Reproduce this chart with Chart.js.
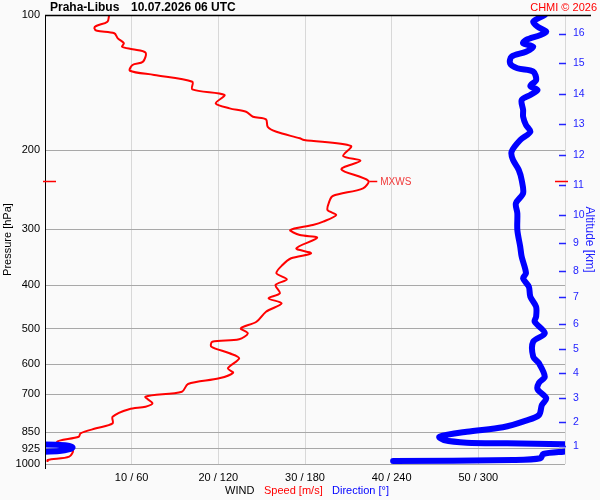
<!DOCTYPE html>
<html>
<head>
<meta charset="utf-8">
<title>Praha-Libus wind profile</title>
<script src="https://cdn.jsdelivr.net/npm/chart.js@4.4.1/dist/chart.umd.min.js"></script>
<style>
  html, body { margin: 0; padding: 0; background: #fafafa; }
  canvas { display: block; }
</style>
</head>
<body>
<canvas id="windChart" width="600" height="500"></canvas>
<script>
// station / time
const stationName = "Praha-Libus";
const soundingTime = "10.07.2026 06 UTC";

// axis ticks
const pressureTicks = [100, 200, 300, 400, 500, 600, 700, 850, 925, 1000];
const windTickLabels = ["", "10 / 60", "20 / 120", "30 / 180", "40 / 240", "50 / 300", ""];
const altLabels = ["1", "2", "3", "4", "5", "6", "7", "8", "9", "10", "11", "12", "13", "14", "15", "16"];
const altPressures = [910, 805, 712, 628, 554, 487, 424, 371, 322, 278.5, 239, 205, 175, 150, 128, 110];

// wind speed [m/s] vs pressure [hPa]
const speedPressure = [100, 103.5, 105.8, 107.1, 108.4, 109.8, 112.7, 115.6, 117.7, 119.2,
  121.3, 127.1, 129.2, 133.1, 136.0, 140.8, 146.4, 150.7, 157.3, 161.4,
  164.2, 168.5, 170.8, 177.4, 182.0, 188.2, 189.9, 195.8, 206.1, 211.1,
  220.6, 233.9, 243.2, 253.0, 260.5, 271.9, 278.9, 288.6, 293.6, 301.2,
  309.0, 313.3, 330.8, 339.4, 348.2, 360.4, 376.1, 387.9, 399.4, 416.7,
  427.6, 438.7, 458.0, 482.1, 498.6, 511.6, 527.6, 534.1, 548.0, 566.8,
  581.6, 612.2, 626.2, 644.4, 663.5, 690.2, 708.1, 732.5, 745.4, 755.4,
  784.7, 811.7, 832.8, 854.4, 869.4, 892.0, 930.7, 963.2, 979.7, 989.8];
const speedValues = [7.4, 7.2, 5.9, 5.7, 6.0, 8.0, 8.4, 9.1, 8.9, 10.1,
  11.6, 11.3, 10.1, 9.8, 12.6, 17.0, 17.0, 20.7, 19.7, 21.3,
  23.2, 24.0, 25.5, 25.7, 26.7, 29.4, 29.9, 35.3, 34.4, 36.4,
  34.2, 37.3, 36.7, 33.2, 32.8, 32.6, 33.6, 32.1, 30.9, 28.3,
  29.4, 31.4, 29.0, 30.7, 28.4, 27.4, 26.7, 27.9, 26.6, 27.1,
  25.8, 27.3, 25.5, 24.4, 22.6, 23.4, 22.4, 19.3, 19.2, 21.3,
  22.4, 21.1, 21.7, 20.1, 16.5, 15.8, 11.6, 12.4, 11.6, 9.7,
  7.8, 7.8, 5.9, 4.1, 3.9, 1.4, 3.2, 2.8, 0.3, 0.3];

// wind direction [deg] vs pressure, split where it wraps over 360/0
const dirUpperPressure = [100, 103.5, 106.2, 108.9, 110.8, 113.7, 115.6, 117.7, 120.7, 123.8,
  128.1, 131.4, 133.7, 139.6, 143.9, 146.9, 150.7, 154.7, 162.8, 168.5,
  175.8, 182.0, 189.9, 201.6, 210.3, 221.4, 233.1, 249.5, 262.7, 276.5,
  301.2, 328.1, 345.4, 376.1, 385.9, 402.9, 424.1, 446.4, 469.8, 482.1,
  511.6, 534.1, 576.8, 596.7, 639.1, 659.1, 681.8, 714.0, 739.0, 777.8,
  800.9, 828.5, 847.4, 869.4, 884.2, 896.5, 899.3, 903.9, 905.5];
const dirUpperValues = [346, 338, 341, 347, 343, 333, 331, 338, 333, 323,
  322, 327, 338, 340, 336, 341, 336, 330, 331, 331,
  333, 336, 329, 323, 324, 328, 330, 331, 326, 327,
  327, 329, 330, 333, 331, 335, 336, 340, 340, 339,
  346, 338, 338, 342, 346, 342, 341, 347, 344, 342,
  333, 317, 292, 273, 276, 292, 320, 359, 368];
const dirWrapPressure = [904.5, 905.5, 909, 918, 927, 936, 940];
const dirWrapValues = [-5, 8, 15, 19, 17, 10, -5];
const dirLowPressure = [937, 938.9, 950, 971.2, 979.7, 984.7];
const dirLowValues = [366, 359, 345, 343, 324, 241];

const FONT = "'Liberation Sans', Arial, sans-serif";
const RED = "#ff0000";
const BLUE = "#0000ff";
const AXIS_BLUE = "#2323ff";

Chart.defaults.font.family = FONT;
Chart.defaults.color = "#000";

function toPoints(xs, ps) {
  return xs.map((v, i) => ({ x: v, y: ps[i] }));
}

function dirDataset(values, pressures) {
  return {
    data: toPoints(values, pressures),
    xAxisID: "x2",
    yAxisID: "y",
    showLine: true,
    borderColor: BLUE,
    borderWidth: 6,
    borderCapStyle: "round",
    borderJoinStyle: "round",
    pointRadius: 0,
    tension: 0.3,
    clip: 0
  };
}

const decor = {
  id: "decor",
  beforeDraw(chart) {
    const c = chart.ctx;
    c.save();
    c.fillStyle = "#fafafa";
    c.fillRect(0, 0, chart.width, chart.height);
    c.restore();
  },
  afterDraw(chart) {
    const c = chart.ctx;
    const area = chart.chartArea;
    const xs = chart.scales.x;
    const ys = chart.scales.y;
    const y2 = chart.scales.y2;
    c.save();

    // frame lines
    c.strokeStyle = "#000";
    c.lineWidth = 1.5;
    c.beginPath();
    c.moveTo(area.left, area.top + 0.5);
    c.lineTo(591, area.top + 0.5);
    c.stroke();
    c.lineWidth = 1;
    c.beginPath();
    c.moveTo(area.left + 0.5, area.top);
    c.lineTo(area.left + 0.5, area.bottom + 5);
    c.stroke();

    // altitude ticks
    c.strokeStyle = AXIS_BLUE;
    c.lineWidth = 1.5;
    altPressures.forEach(p => {
      const py = Math.round(y2.getPixelForValue(p)) + 0.5;
      c.beginPath();
      c.moveTo(area.right - 6, py);
      c.lineTo(area.right + 1, py);
      c.stroke();
    });

    // max wind marker
    let iMax = 0;
    speedValues.forEach((v, i) => { if (v > speedValues[iMax]) iMax = i; });
    const mx = xs.getPixelForValue(speedValues[iMax]);
    const my = Math.round(ys.getPixelForValue(speedPressure[iMax])) + 0.5;
    c.strokeStyle = RED;
    c.lineWidth = 1.5;
    c.beginPath();
    c.moveTo(mx + 1, my); c.lineTo(mx + 9, my);
    c.moveTo(area.left - 2, my); c.lineTo(area.left + 11, my);
    c.moveTo(area.right - 10, my); c.lineTo(area.right + 3, my);
    c.stroke();
    c.fillStyle = "#f03a3a";
    c.font = "10px " + FONT;
    c.textBaseline = "middle";
    c.textAlign = "left";
    c.fillText("MXWS", mx + 12, my + 1);

    // header
    c.fillStyle = "#000";
    c.font = "bold 12px " + FONT;
    c.fillText(stationName, 50, 8);
    c.fillText(soundingTime, 131, 8);
    c.fillStyle = RED;
    c.font = "11px " + FONT;
    c.textAlign = "right";
    c.fillText("CHMI \u00a9 2026", 597, 8);

    // bottom legend
    c.textAlign = "left";
    c.fillStyle = "#000";
    c.fillText("WIND", 225, 491);
    c.fillStyle = RED;
    c.fillText("Speed [m/s]", 264, 491);
    c.fillStyle = BLUE;
    c.fillText("Direction [\u00b0]", 332, 491);
    c.restore();
  }
};

const ctx = document.getElementById("windChart").getContext("2d");
new Chart(ctx, {
  type: "scatter",
  data: {
    datasets: [
      dirDataset(dirUpperValues, dirUpperPressure),
      dirDataset(dirWrapValues, dirWrapPressure),
      dirDataset(dirLowValues, dirLowPressure),
      {
        data: toPoints(speedValues, speedPressure),
        xAxisID: "x",
        yAxisID: "y",
        showLine: true,
        borderColor: RED,
        borderWidth: 2,
        pointRadius: 0,
        tension: 0.3
      }
    ]
  },
  options: {
    responsive: false,
    animation: false,
    devicePixelRatio: 1,
    layout: { padding: { top: 15, left: 0, right: 0, bottom: 0 } },
    plugins: {
      legend: { display: false },
      tooltip: { enabled: false }
    },
    scales: {
      x: {
        type: "linear",
        position: "bottom",
        min: 0,
        max: 60,
        afterFit: s => { s.height = 36; },
        ticks: {
          stepSize: 10,
          padding: 7,
          maxRotation: 0,
          autoSkip: false,
          font: { size: 11 },
          color: "#000",
          callback: v => windTickLabels[Math.round(v / 10)] || ""
        },
        grid: {
          color: c => (c.tick && c.tick.value > 0 ? "#d8d8d8" : "transparent"),
          drawTicks: false
        },
        border: { display: false }
      },
      x2: {
        type: "linear",
        min: 0,
        max: 360,
        display: false
      },
      y: {
        type: "logarithmic",
        position: "left",
        reverse: true,
        min: 100,
        max: 1000,
        afterFit: s => { s.width = 45; },
        afterBuildTicks: s => { s.ticks = pressureTicks.map(v => ({ value: v })); },
        ticks: {
          padding: 5,
          autoSkip: false,
          font: { size: 11 },
          color: "#000",
          callback: v => String(v)
        },
        grid: {
          color: c => (c.tick && c.tick.value === 100 ? "transparent" : "#a8a8a8"),
          drawTicks: false
        },
        border: { display: false },
        title: {
          display: true,
          text: "Pressure [hPa]",
          color: "#000",
          font: { size: 11 },
          padding: { top: 1, bottom: 0 }
        }
      },
      y2: {
        type: "logarithmic",
        position: "right",
        reverse: true,
        min: 100,
        max: 1000,
        afterFit: s => { s.width = 35; },
        afterBuildTicks: s => { s.ticks = altPressures.map(v => ({ value: v })); },
        ticks: {
          padding: 8,
          autoSkip: false,
          font: { size: 10.5 },
          color: AXIS_BLUE,
          callback: (v, i) => altLabels[i]
        },
        grid: { display: false, drawTicks: false },
        border: { display: false },
        title: {
          display: true,
          text: "Altitude [km]",
          color: AXIS_BLUE,
          font: { size: 12 },
          padding: { top: 3, bottom: 0 }
        }
      }
    }
  },
  plugins: [decor]
});
</script>
</body>
</html>
